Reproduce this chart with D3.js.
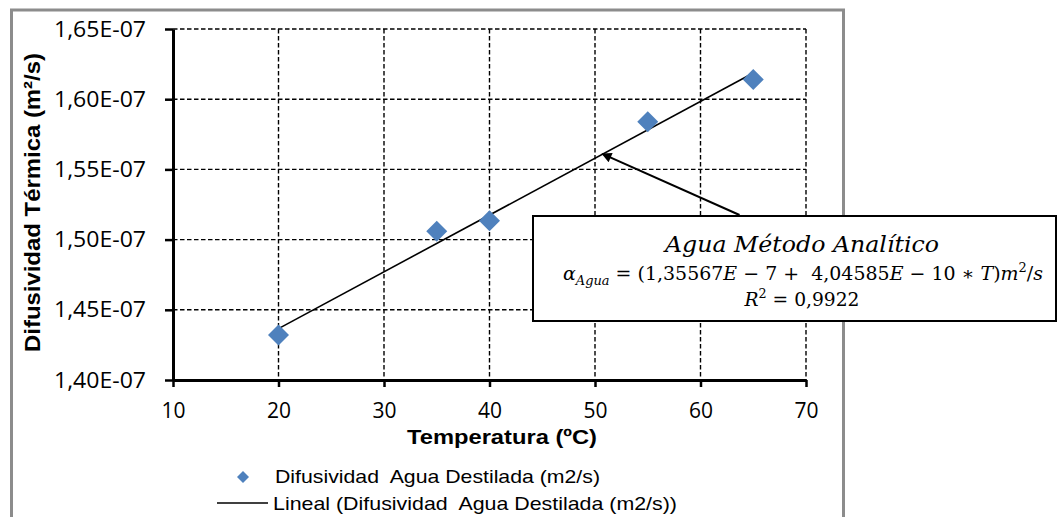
<!DOCTYPE html>
<html>
<head>
<meta charset="utf-8">
<script src="https://cdn.jsdelivr.net/npm/d3@7"></script>
<style>
  html, body { margin: 0; padding: 0; background: #ffffff; }
  svg { display: block; }
  text { white-space: pre; }
</style>
</head>
<body>
<svg id="chart" width="1059" height="517"></svg>
<script>
// ---- data ----
const temperatures = [20, 35, 40, 55, 65];
const diffusivity = [1.432e-7, 1.506e-7, 1.5135e-7, 1.584e-7, 1.614e-7];
const xTicks = [10, 20, 30, 40, 50, 60, 70];
const yTicks = [1.40e-7, 1.45e-7, 1.50e-7, 1.55e-7, 1.60e-7, 1.65e-7];
const yTickLabels = ["1,40E-07", "1,45E-07", "1,50E-07", "1,55E-07", "1,60E-07", "1,65E-07"];
const trendIntercept = 1.35567e-7;
const trendSlope = 4.04585e-10;
const trendRange = [20, 65];
const arrowFrom = [63.7, 1.5175e-7];
const arrowTo = [50.7, 1.561e-7];
const seriesName = "Difusividad  Agua Destilada (m2/s)";
const trendName = "Lineal (Difusividad  Agua Destilada (m2/s))";
const xTitle = "Temperatura (ºC)";
const yTitle = "Difusividad Térmica (m²/s)";

// ---- layout ----
const svg = d3.select("#chart");
const plot = { left: 173, right: 806, top: 29, bottom: 380 };
const x = d3.scaleLinear().domain([10, 70]).range([plot.left, plot.right]);
const y = d3.scaleLinear().domain([1.40e-7, 1.65e-7]).range([plot.bottom, plot.top]);

// outer frame
svg.append("rect").attr("x", 11.5).attr("y", 10).attr("width", 832).attr("height", 540)
  .attr("fill", "#fff").attr("stroke", "#8c8c8c").attr("stroke-width", 3);

// grid
const grid = svg.append("g").attr("stroke", "#000").attr("stroke-width", 1.4)
  .attr("stroke-dasharray", "4.5,2.5").attr("fill", "none");
yTicks.slice(1).forEach(v => {
  grid.append("line").attr("x1", plot.left).attr("x2", plot.right)
    .attr("y1", y(v)).attr("y2", y(v));
});
xTicks.slice(1).forEach(v => {
  grid.append("line").attr("x1", x(v)).attr("x2", x(v))
    .attr("y1", plot.top).attr("y2", plot.bottom);
});

// axes
const xAxis = svg.append("g").attr("transform", `translate(0,${plot.bottom})`)
  .call(d3.axisBottom(x).tickValues(xTicks).tickSize(7).tickSizeOuter(0).tickPadding(16));
const yAxis = svg.append("g").attr("transform", `translate(${plot.left},0)`)
  .call(d3.axisLeft(y).tickValues(yTicks).tickSize(8).tickSizeOuter(0).tickPadding(19)
    .tickFormat((d, i) => yTickLabels[i]));
[xAxis, yAxis].forEach(g => {
  g.select(".domain").attr("stroke", "#000").attr("stroke-width", 3);
  g.selectAll(".tick line").attr("stroke", "#000").attr("stroke-width", 2.5);
  g.selectAll(".tick text").attr("fill", "#000")
    .attr("font-family", "'Open Sans', sans-serif").attr("font-size", 22);
});
yAxis.selectAll(".tick text").attr("textLength", 92).attr("lengthAdjust", "spacingAndGlyphs");
xAxis.selectAll(".tick text").attr("font-size", 21);

// trend line
const trend = d3.line().x(d => x(d)).y(d => y(trendIntercept + trendSlope * d));
svg.append("path").datum(trendRange).attr("d", trend)
  .attr("fill", "none").attr("stroke", "#000").attr("stroke-width", 1.6);

// points
const r = 10.5;
svg.append("g").selectAll("path").data(temperatures).join("path")
  .attr("d", (t, i) => {
    const cx = x(t), cy = y(diffusivity[i]);
    return `M${cx},${cy - r}L${cx + r},${cy}L${cx},${cy + r}L${cx - r},${cy}Z`;
  })
  .attr("fill", "#4f81bd");

// axis titles
svg.append("text").attr("transform", `translate(40,${(53 + 352) / 2}) rotate(-90)`)
  .attr("text-anchor", "middle").attr("font-family", "'Liberation Sans', Arial, sans-serif")
  .attr("font-weight", "bold").attr("font-size", 22).attr("textLength", 299)
  .attr("lengthAdjust", "spacingAndGlyphs").text(yTitle);
svg.append("text").attr("x", 407).attr("y", 444)
  .attr("font-family", "'Liberation Sans', Arial, sans-serif")
  .attr("font-weight", "bold").attr("font-size", 21).attr("textLength", 190)
  .attr("lengthAdjust", "spacingAndGlyphs").text(xTitle);

// legend
const lg = svg.append("g");
lg.append("path").attr("d", "M243,471L249,477L243,483L237,477Z").attr("fill", "#4f81bd");
lg.append("text").attr("x", 275).attr("y", 483)
  .attr("font-family", "'Liberation Sans', Arial, sans-serif").attr("font-size", 19)
  .attr("textLength", 325).attr("lengthAdjust", "spacingAndGlyphs").text(seriesName);
lg.append("line").attr("x1", 217).attr("x2", 268).attr("y1", 503).attr("y2", 503)
  .attr("stroke", "#000").attr("stroke-width", 1.6);
lg.append("text").attr("x", 273).attr("y", 510)
  .attr("font-family", "'Liberation Sans', Arial, sans-serif").attr("font-size", 19)
  .attr("textLength", 404).attr("lengthAdjust", "spacingAndGlyphs").text(trendName);

// arrow
const defs = svg.append("defs");
defs.append("marker").attr("id", "ah").attr("viewBox", "0 0 10 10").attr("refX", 9).attr("refY", 5)
  .attr("markerWidth", 6).attr("markerHeight", 5).attr("orient", "auto")
  .attr("markerUnits", "strokeWidth")
  .append("path").attr("d", "M0,0L10,5L0,10Z").attr("fill", "#000");
svg.append("line")
  .attr("x1", x(arrowFrom[0])).attr("y1", y(arrowFrom[1]))
  .attr("x2", x(arrowTo[0])).attr("y2", y(arrowTo[1]))
  .attr("stroke", "#000").attr("stroke-width", 2).attr("marker-end", "url(#ah)");

// annotation box
const box = svg.append("g");
box.append("rect").attr("x", 533).attr("y", 216).attr("width", 523).attr("height", 105)
  .attr("fill", "#fff").attr("stroke", "#000").attr("stroke-width", 2);
const serif = "'DejaVu Serif', 'Liberation Serif', serif";
box.append("text").attr("x", 802).attr("y", 252).attr("text-anchor", "middle")
  .attr("font-family", serif).attr("font-style", "italic").attr("font-size", 23)
  .attr("textLength", 274).attr("lengthAdjust", "spacingAndGlyphs")
  .text("Agua Método Analítico");
const eq = box.append("text").attr("x", 563).attr("y", 280)
  .attr("font-family", serif).attr("font-size", 19)
  .attr("textLength", 480).attr("lengthAdjust", "spacingAndGlyphs");
eq.append("tspan").attr("font-style", "italic").text("α");
eq.append("tspan").attr("font-style", "italic").attr("font-size", 13).attr("dy", 5).text("Agua");
eq.append("tspan").attr("dy", -5).text(" = (1,35567");
eq.append("tspan").attr("font-style", "italic").text("E");
eq.append("tspan").text(" − 7 +  4,04585");
eq.append("tspan").attr("font-style", "italic").text("E");
eq.append("tspan").text(" − 10 ∗ ");
eq.append("tspan").attr("font-style", "italic").text("T");
eq.append("tspan").text(")");
eq.append("tspan").attr("font-style", "italic").text("m");
eq.append("tspan").attr("font-size", 13).attr("dy", -8).text("2");
eq.append("tspan").attr("dy", 8).text("/");
eq.append("tspan").attr("font-style", "italic").text("s");
const r2 = box.append("text").attr("x", 802).attr("y", 306).attr("text-anchor", "middle")
  .attr("font-family", serif).attr("font-size", 19)
  .attr("textLength", 115).attr("lengthAdjust", "spacingAndGlyphs");
r2.append("tspan").attr("font-style", "italic").text("R");
r2.append("tspan").attr("font-size", 13).attr("dy", -8).text("2");
r2.append("tspan").attr("dy", 8).text(" = 0,9922");
</script>
</body>
</html>
